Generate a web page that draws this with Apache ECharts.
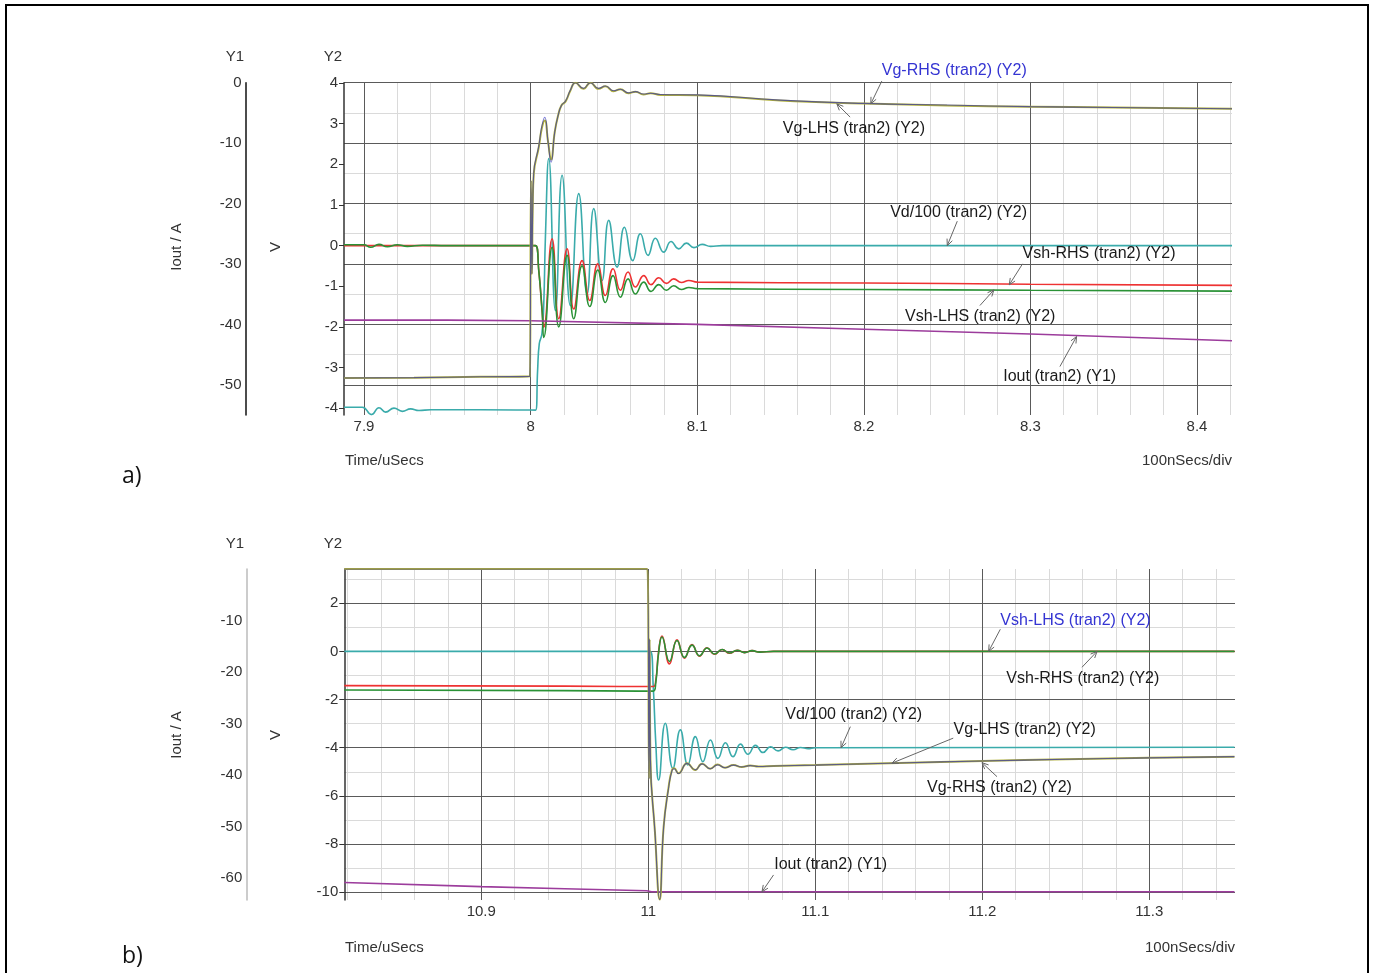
<!DOCTYPE html>
<html><head><meta charset="utf-8">
<script src="https://cdn.jsdelivr.net/npm/echarts@6/dist/echarts.min.js"></script>
<style>
html,body{margin:0;padding:0;background:#fff;}
#frame{position:absolute;left:5px;top:4px;width:1364px;height:1000px;border:2.5px solid #000;box-sizing:border-box;}
#c{position:absolute;left:0;top:0;width:1375px;height:973px;}
</style></head><body>
<div id="frame"></div><div id="c"></div>
<script>
// ---------- tick values ----------
const topXMajor = [7.9, 8.0, 8.1, 8.2, 8.3, 8.4];
const topXMinor = [7.92,7.94,7.96,7.98,8.02,8.04,8.06,8.08,8.12,8.14,8.16,8.18,8.22,8.24,8.26,8.28,8.32,8.34,8.36,8.38,8.42];
const topY1Major = [0,-10,-20,-30,-40,-50];
const topY1Minor = [-5,-15,-25,-35,-45];
const topY2Ticks = [-4,-3,-2,-1,0,1,2,3,4];
const botXMajor = [10.9, 11.0, 11.1, 11.2, 11.3];
const botXMinor = [10.82,10.84,10.86,10.88,10.92,10.94,10.96,10.98,11.02,11.04,11.06,11.08,11.12,11.14,11.16,11.18,11.22,11.24,11.26,11.28,11.32,11.34];
const botY1Ticks = [-10,-20,-30,-40,-50,-60];
const botY2Major = [-10,-8,-6,-4,-2,0,2];
const botY2Minor = [-9,-7,-5,-3,-1,1,3];

// ---------- (a) series ----------
const topVgLHS = [[7.888,-3.26],[7.93,-3.25],[7.97,-3.23],[7.9995,-3.22],[8.0002,1.6],[8.0008,-0.7],[8.0013,1.0],[8.0019,1.77],[8.0049,2.42],[8.0068,2.9],[8.0085,3.08],[8.0105,2.55],[8.0123,2.12],[8.0145,2.8],[8.0165,3.2],[8.0185,3.45],[8.021,3.55],[8.0239,3.82],[8.0269,4.01],[8.0317,3.86],[8.0359,4.01],[8.0407,3.86],[8.0449,3.92],[8.0499,3.8],[8.0539,3.85],[8.0587,3.75],[8.063,3.79],[8.0677,3.72],[8.072,3.75],[8.078,3.71],[8.1,3.70],[8.15,3.57],[8.2,3.5],[8.25,3.45],[8.3,3.42],[8.35,3.4],[8.421,3.37]];
const topVgRHS = [[7.888,-3.26],[7.93,-3.25],[7.97,-3.23],[7.9995,-3.22],[8.0002,1.6],[8.0008,-0.7],[8.0013,1.0],[8.0019,1.8],[8.0049,2.45],[8.0068,2.95],[8.0085,3.16],[8.0105,2.55],[8.0123,2.05],[8.0145,2.8],[8.0165,3.2],[8.0185,3.45],[8.021,3.56],[8.0239,3.83],[8.0269,4.01],[8.0317,3.87],[8.0359,4.01],[8.0407,3.87],[8.0449,3.93],[8.0499,3.81],[8.0539,3.85],[8.0587,3.76],[8.063,3.79],[8.0677,3.73],[8.072,3.75],[8.078,3.72],[8.1,3.71],[8.15,3.58],[8.2,3.5],[8.25,3.46],[8.3,3.42],[8.35,3.4],[8.421,3.37]];
const topVd = [[7.888,-3.98],[7.899,-3.98],[7.9045,-4.16],[7.909,-3.99],[7.913,-4.1],[7.918,-4.0],[7.923,-4.08],[7.928,-4.02],[7.933,-4.06],[7.94,-4.04],[7.97,-4.04],[8.003,-4.05],[8.0042,-3.08],[8.0052,-2.42],[8.0068,-2.17],[8.0079,-1.43],[8.0089,0.21],[8.0109,2.14],[8.0149,-1.6],[8.0189,1.73],[8.0239,-1.48],[8.0289,1.28],[8.0339,-1.19],[8.0379,0.91],[8.0429,-0.86],[8.0469,0.62],[8.0519,-0.53],[8.0563,0.45],[8.0613,-0.37],[8.0659,0.29],[8.0705,-0.24],[8.0749,0.18],[8.0799,-0.16],[8.0843,0.1],[8.0889,-0.08],[8.0935,0.06],[8.098,-0.05],[8.103,0.03],[8.108,-0.02],[8.115,0.0],[8.2,0.0],[8.421,0.0]];
const topVshRHS = [[7.888,0],[8.0029,0],[8.0049,-0.61],[8.0069,-1.6],[8.0079,-2.01],[8.0129,0.17],[8.0169,-1.8],[8.0219,-0.08],[8.0259,-1.56],[8.0309,-0.37],[8.0355,-1.35],[8.0403,-0.45],[8.0449,-1.23],[8.0495,-0.57],[8.0539,-1.1],[8.0585,-0.65],[8.0629,-1.02],[8.0679,-0.74],[8.0723,-0.96],[8.0769,-0.79],[8.0815,-0.93],[8.0859,-0.82],[8.0905,-0.91],[8.095,-0.86],[8.1,-0.9],[8.2,-0.92],[8.3,-0.95],[8.421,-0.98]];
const topVshLHS = [[7.888,0.02],[7.9,0.02],[7.904,-0.04],[7.909,0.03],[7.914,-0.03],[7.92,0.02],[7.926,-0.02],[7.935,0.01],[7.95,0],[8.0029,0],[8.0049,-0.61],[8.0069,-1.6],[8.0079,-2.26],[8.0129,-0.04],[8.0169,-2.0],[8.0219,-0.24],[8.0259,-1.8],[8.0309,-0.5],[8.0355,-1.5],[8.0403,-0.6],[8.0449,-1.4],[8.0495,-0.74],[8.0539,-1.27],[8.0585,-0.82],[8.0629,-1.19],[8.0679,-0.9],[8.0723,-1.13],[8.0769,-0.96],[8.0815,-1.1],[8.0859,-0.99],[8.0905,-1.08],[8.095,-1.03],[8.1,-1.06],[8.2,-1.08],[8.3,-1.1],[8.421,-1.12]];
const topIout = [[7.888,-39.3],[7.95,-39.3],[8.0,-39.4],[8.1,-40.0],[8.2,-40.8],[8.3,-41.6],[8.421,-42.7]];

// ---------- (b) series ----------
const botVgLHS = [[10.818,3.42],[10.9995,3.42],[11.0004,-5.3],[11.0008,0.5],[11.0013,-4.5],[11.004,-7.5],[11.0068,-10.3],[11.0092,-7.28],[11.0122,-5.62],[11.0142,-4.92],[11.0155,-4.85],[11.0181,-5.06],[11.0232,-4.64],[11.0281,-4.92],[11.0322,-4.66],[11.0371,-4.87],[11.0415,-4.7],[11.046,-4.83],[11.051,-4.72],[11.056,-4.8],[11.061,-4.74],[11.066,-4.78],[11.075,-4.76],[11.1,-4.72],[11.15,-4.63],[11.2,-4.55],[11.25,-4.48],[11.3,-4.42],[11.351,-4.37]];
const botVgRHS = [[10.818,3.42],[10.9995,3.42],[11.0004,-5.3],[11.0008,0.5],[11.0013,-4.5],[11.004,-7.5],[11.0068,-10.3],[11.0092,-7.3],[11.0122,-5.65],[11.0142,-4.95],[11.0155,-4.87],[11.0181,-5.07],[11.0232,-4.65],[11.0281,-4.92],[11.0322,-4.67],[11.0371,-4.87],[11.0415,-4.71],[11.046,-4.83],[11.051,-4.72],[11.056,-4.8],[11.061,-4.74],[11.066,-4.78],[11.075,-4.76],[11.1,-4.72],[11.15,-4.63],[11.2,-4.55],[11.25,-4.48],[11.3,-4.42],[11.351,-4.37]];
const botVd = [[10.818,0],[11.0012,0],[11.003,-1.5],[11.0045,-3.8],[11.0062,-5.34],[11.0102,-2.98],[11.0147,-4.85],[11.0192,-3.26],[11.0237,-4.71],[11.0282,-3.54],[11.0327,-4.58],[11.0372,-3.68],[11.0417,-4.44],[11.0462,-3.79],[11.0507,-4.37],[11.0552,-3.85],[11.0597,-4.27],[11.0642,-3.9],[11.0687,-4.2],[11.0732,-3.96],[11.0777,-4.13],[11.0822,-3.98],[11.0867,-4.08],[11.0912,-3.99],[11.0957,-4.04],[11.1,-4.0],[11.351,-3.98]];
const botVshRHS = [[10.818,-1.42],[10.95,-1.44],[11.003,-1.46],[11.0045,-1.2],[11.0062,0.0],[11.0082,0.64],[11.0127,-0.52],[11.0172,0.48],[11.0217,-0.28],[11.0262,0.28],[11.0307,-0.2],[11.0352,0.15],[11.0397,-0.12],[11.0442,0.08],[11.0487,-0.08],[11.0532,0.05],[11.0577,-0.05],[11.0622,0.03],[11.0667,-0.03],[11.075,0],[11.351,0]];
const botVshLHS = [[10.818,-1.6],[10.95,-1.63],[11.003,-1.65],[11.0045,-1.3],[11.0062,-0.05],[11.0082,0.6],[11.0127,-0.42],[11.0172,0.45],[11.0217,-0.25],[11.0262,0.26],[11.0307,-0.18],[11.0352,0.14],[11.0397,-0.11],[11.0442,0.08],[11.0487,-0.07],[11.0532,0.05],[11.0577,-0.05],[11.0622,0.03],[11.0667,-0.03],[11.075,0],[11.351,0]];
const botIout = [[10.818,-60.9],[10.9,-61.7],[10.95,-62.1],[10.999,-62.5],[11.002,-62.7],[11.351,-62.7]];

// annotations: [text, textT, textV, fromT, fromV, toT, toV, blue]
const topNotes = [
  ['Vg-RHS (tran2) (Y2)', 8.2108, 4.296, 8.2108, 4.05, 8.2042, 3.49, true],
  ['Vg-LHS (tran2) (Y2)', 8.1514, 2.877, 8.1918, 3.163, 8.1838, 3.49, false],
  ['Vd/100 (tran2) (Y2)', 8.2158, 0.823, 8.2561, 0.601, 8.2501, 0.0, false],
  ['Vsh-RHS (tran2) (Y2)', 8.2953, -0.202, 8.2953, -0.448, 8.2873, -0.966, false],
  ['Vsh-LHS (tran2) (Y2)', 8.2248, -1.746, 8.2697, -1.475, 8.2781, -1.089, false],
  ['Iout (tran2) (Y1)', 8.2837, -3.224, 8.3177, -2.978, 8.3277, -2.239, false]
];
const botNotes = [
  ['Vsh-LHS (tran2) (Y2)', 11.2108, 1.277, 11.2108, 0.92, 11.2038, 0.0, true],
  ['Vsh-RHS (tran2) (Y2)', 11.2144, -1.115, 11.2597, -0.658, 11.2687, 0.0, false],
  ['Vd/100 (tran2) (Y2)', 11.082, -2.639, 11.121, -3.125, 11.1154, -4.0, false],
  ['Vg-LHS (tran2) (Y2)', 11.1828, -3.262, 11.1826, -3.6, 11.1459, -4.64, false],
  ['Vg-RHS (tran2) (Y2)', 11.1669, -5.641, 11.2088, -5.2, 11.1998, -4.62, false],
  ['Iout (tran2) (Y1)', 11.0754, -8.868, 11.075, -9.28, 11.0681, -9.98, false]
];

const FONT = '"Liberation Sans", Arial, sans-serif';
const DARK = '#5a5a5a', LIGHT = '#dadada', TXT = '#333';
const C = {vgr:'#2222b8', vgl:'#b2b23a', vd:'#3aabab', vshr:'#ee3232', vshl:'#2a9236', iout:'#9c3c9c'};

function xAxes(gi, min, max, majors, minors) {
  return [
    {type:'value', gridIndex:gi, min, max, position:'bottom', z:2,
     axisLine:{show:false}, axisTick:{show:false, customValues:majors},
     axisLabel:{customValues:majors, margin:4, color:TXT, fontSize:15, fontFamily:FONT},
     splitLine:{show:true, lineStyle:{color:DARK, width:1}}},
    {type:'value', gridIndex:gi, min, max, position:'bottom', z:1,
     axisLine:{show:false}, axisTick:{show:false, customValues:minors}, axisLabel:{show:false},
     splitLine:{show:true, lineStyle:{color:LIGHT, width:1}}}
  ];
}
const xAxis = [].concat(
  xAxes(0, 7.888, 8.421, topXMajor, topXMinor),
  xAxes(1, 10.818, 11.3513, botXMajor, botXMinor)
);
const yAxis = [
  {type:'value', gridIndex:0, min:-55, max:0, position:'left', offset:98.5, z:2,
   axisLine:{show:true, lineStyle:{color:'#111', width:1.5}},
   axisTick:{show:false, customValues:topY1Major},
   axisLabel:{customValues:topY1Major, margin:4, color:TXT, fontSize:15, fontFamily:FONT},
   splitLine:{show:true, lineStyle:{color:DARK, width:1}}},
  {type:'value', gridIndex:0, min:-55, max:0, position:'left', z:1,
   axisLine:{show:false}, axisTick:{show:false, customValues:topY1Minor}, axisLabel:{show:false},
   splitLine:{show:true, lineStyle:{color:LIGHT, width:1}}},
  {type:'value', gridIndex:0, min:-4.17, max:4.01, position:'left', z:3,
   axisLine:{show:true, lineStyle:{color:'#333', width:1.5}},
   axisTick:{show:true, inside:false, length:5, customValues:topY2Ticks, lineStyle:{color:'#333'}},
   axisLabel:{customValues:topY2Ticks, margin:6, color:TXT, fontSize:15, fontFamily:FONT},
   splitLine:{show:false}},
  {type:'value', gridIndex:1, min:-64.3, max:0, position:'left', offset:98, z:2,
   axisLine:{show:true, lineStyle:{color:'#bbbbbb', width:1.5}},
   axisTick:{show:false, customValues:botY1Ticks},
   axisLabel:{customValues:botY1Ticks, margin:4, color:TXT, fontSize:15, fontFamily:FONT},
   splitLine:{show:false}},
  {type:'value', gridIndex:1, min:-10.32, max:3.42, position:'left', z:3,
   axisLine:{show:true, lineStyle:{color:'#333', width:1.5}},
   axisTick:{show:true, inside:false, length:5, customValues:botY2Major, lineStyle:{color:'#333'}},
   axisLabel:{customValues:botY2Major, margin:6, color:TXT, fontSize:15, fontFamily:FONT},
   splitLine:{show:true, lineStyle:{color:DARK, width:1}}},
  {type:'value', gridIndex:1, min:-10.32, max:3.42, position:'left', z:1,
   axisLine:{show:false}, axisTick:{show:false, customValues:botY2Minor}, axisLabel:{show:false},
   splitLine:{show:true, lineStyle:{color:LIGHT, width:1}}}
];

function ln(name, data, color, xi, yi, width, smooth, opacity) {
  return {type:'line', name, data, xAxisIndex:xi, yAxisIndex:yi, showSymbol:false, symbol:'none',
    smooth: smooth ? 0.5 : false, lineStyle:{color, width, opacity: opacity || 1}, itemStyle:{color}, silent:true, z:3};
}
const series = [
  ln('Vd/100', topVd, C.vd, 0, 2, 1.6, true),
  ln('Vsh-RHS', topVshRHS, C.vshr, 0, 2, 1.6, true),
  ln('Vsh-LHS', topVshLHS, C.vshl, 0, 2, 1.6, true),
  ln('Iout', topIout, C.iout, 0, 0, 1.6, false),
  ln('Vg-LHS', topVgLHS, C.vgl, 0, 2, 2.0, true),
  ln('Vg-RHS', topVgRHS, C.vgr, 0, 2, 1.1, true, 0.6),
  ln('Vd/100', botVd, C.vd, 2, 4, 1.6, true),
  ln('Vsh-RHS', botVshRHS, C.vshr, 2, 4, 1.6, true),
  ln('Vsh-LHS', botVshLHS, C.vshl, 2, 4, 1.6, true),
  ln('Iout', botIout, C.iout, 2, 3, 1.6, false),
  ln('Vg-LHS', botVgLHS, C.vgl, 2, 4, 2.0, true),
  ln('Vg-RHS', botVgRHS, C.vgr, 2, 4, 1.1, true, 0.6)
];

const chart = echarts.init(document.getElementById('c'), null, {renderer:'canvas', width:1375, height:973});
chart.setOption({
  animation:false,
  grid:[
    {left:344, top:82.7, width:888, height:332.3},
    {left:344.3, top:569, width:890.7, height:331}
  ],
  xAxis, yAxis, series
});

function txt(text, x, y, opt) {
  opt = opt || {};
  return {type:'text', x, y, rotation: opt.rot || 0, z:100,
    style:{text, fill: opt.color || TXT, fontSize: opt.size || 15, fontFamily: opt.family || FONT,
      align: opt.align || 'left', verticalAlign:'middle'}};
}
const g = [];
[[0, 57, 247, 461, 476, 'a)', 1232], [1, 544, 735, 948, 956, 'b)', 1235]].forEach(function (p) {
  g.push(txt('Y1', 235, p[1], {align:'center'}));
  g.push(txt('Y2', 333, p[1], {align:'center'}));
  g.push(txt('Iout / A', 177, p[2], {align:'center', rot:Math.PI/2}));
  g.push(txt('V', 276, p[2], {align:'center', rot:Math.PI/2}));
  g.push(txt('Time/uSecs', 345, p[3]));
  g.push(txt('100nSecs/div', p[6], p[3], {align:'right'}));
  g.push(txt(p[5], 122, p[4], {size:23, family:'"Open Sans", "Noto Sans", sans-serif', color:'#111'}));
});
function notes(list, finder) {
  list.forEach(function (n) {
    const tp = chart.convertToPixel(finder, [n[1], n[2]]);
    const a = chart.convertToPixel(finder, [n[3], n[4]]);
    const b = chart.convertToPixel(finder, [n[5], n[6]]);
    g.push(txt(n[0], tp[0], tp[1], {size:16, color: n[7] ? '#3434d2' : '#1a1a1a'}));
    g.push({type:'line', z:99, shape:{x1:a[0], y1:a[1], x2:b[0], y2:b[1]}, style:{stroke:'#666', lineWidth:1}});
    const ang = Math.atan2(b[1]-a[1], b[0]-a[0]);
    const L = 7, s = 0.42;
    const p1 = [b[0] - L*Math.cos(ang - s), b[1] - L*Math.sin(ang - s)];
    const p2 = [b[0] - L*Math.cos(ang + s), b[1] - L*Math.sin(ang + s)];
    g.push({type:'polyline', z:99, shape:{points:[p1, b, p2]}, style:{stroke:'#666', lineWidth:1, fill:null}});
  });
}
notes(topNotes, {xAxisIndex:0, yAxisIndex:2});
notes(botNotes, {xAxisIndex:2, yAxisIndex:4});
chart.setOption({graphic: g});
</script></body></html>
